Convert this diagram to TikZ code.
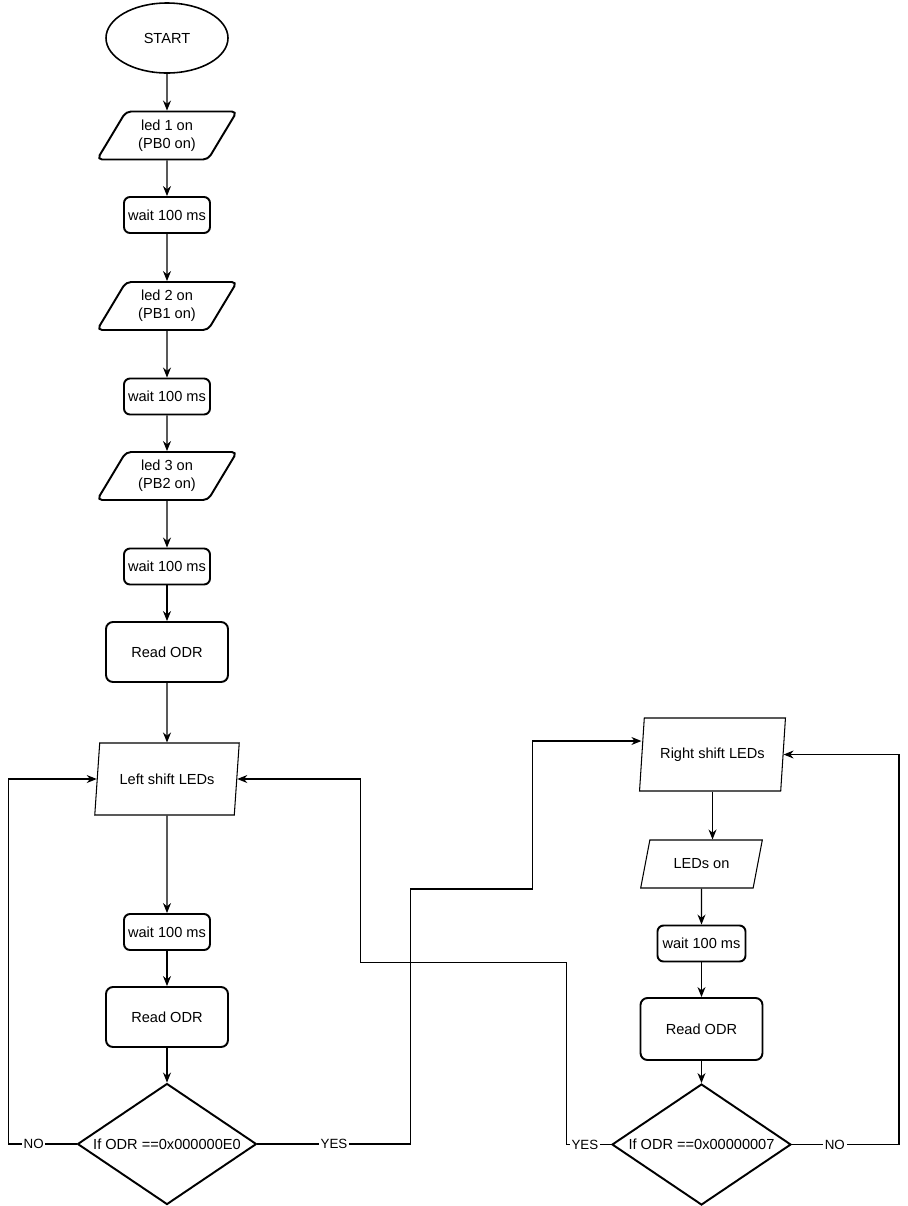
\documentclass[tikz,border=0pt]{standalone}
\usepackage{fontspec}
\setmainfont{Liberation Sans}
\usepackage{tikz}
\usetikzlibrary{shapes.geometric,positioning,arrows.meta}
\tikzstyle{startstop} = [ellipse, minimum width=2.44cm, minimum height=1.4cm, inner sep=0pt, draw=black, line width=0.9pt]
\tikzstyle{ledbox} = [trapezium, trapezium left angle=57, trapezium right angle=123, trapezium stretches=true, minimum width=2.8cm, minimum height=0.96cm, inner sep=0pt, align=center, rounded corners=1mm, draw=black, line width=1.1pt]
\tikzstyle{shiftbox} = [trapezium, trapezium stretches=true, inner sep=0pt, draw=black, line width=0.6pt]
\tikzstyle{waitbox} = [rectangle, rounded corners=1.2mm, minimum width=1.72cm, minimum height=0.72cm, inner sep=0pt, draw=black, line width=1.1pt]
\tikzstyle{readbox} = [rectangle, rounded corners=1.4mm, minimum width=2.44cm, minimum height=1.2cm, inner sep=0pt, draw=black, line width=1.1pt]
\tikzstyle{decision} = [diamond, aspect=1.48, minimum width=3.58cm, minimum height=2.42cm, inner sep=0pt, draw=black, line width=1.1pt]
\tikzstyle{arrow} = [line width=0.6pt, ->, >={Stealth[length=2mm,width=1.6mm]}]
\tikzstyle{answer} = [fill=white, inner sep=1pt, font=\fontsize{7.6}{9}\selectfont]

\begin{document}
\begin{tikzpicture}[font=\fontsize{8.3}{10}\selectfont]
            \useasboundingbox (0,0) rectangle (18.16,-24.12);
            % Left column
            \node(start) [startstop] at (3.34,-0.76) {START};
            \node(led1) [ledbox, below of=start, node distance=1.95cm] {led 1 on\\(PB0 on)};
            \node(wait1) [waitbox, below of=led1, node distance=1.59cm] {wait 100 ms};
            \node(led2) [ledbox, below of=wait1, node distance=1.82cm] {led 2 on\\(PB1 on)};
            \node(wait2) [waitbox, below of=led2, node distance=1.81cm] {wait 100 ms};
            \node(led3) [ledbox, below of=wait2, node distance=1.59cm] {led 3 on\\(PB2 on)};
            \node(wait3) [waitbox, below of=led3, node distance=1.81cm] {wait 100 ms};
            \node(read1) [readbox, below of=wait3, node distance=1.71cm] {Read ODR};
            \node(lshift) [shiftbox, trapezium left angle=72, trapezium right angle=108, minimum width=2.9cm, minimum height=1.44cm, below of=read1, node distance=2.54cm] {Left shift LEDs};
            \node(wait4) [waitbox, below of=lshift, node distance=3.06cm] {wait 100 ms};
            \node(read2) [readbox, below of=wait4, node distance=1.7cm] {Read ODR};
            \node(check1) [decision, below of=read2, node distance=2.54cm] {If ODR ==0x000000E0};

            % Right column
            \node(rshift) [shiftbox, trapezium left angle=75, trapezium right angle=105, minimum width=2.92cm, minimum height=1.46cm, xshift=10.91cm, yshift=0.49cm] at (lshift) {Right shift LEDs};
            \node(ledson) [shiftbox, trapezium left angle=64, trapezium right angle=116, minimum width=2.44cm, minimum height=0.96cm, below of=rshift, node distance=2.19cm, xshift=-0.22cm] {LEDs on};
            \node(wait5) [waitbox, minimum width=1.76cm, below of=ledson, node distance=1.59cm] {wait 100 ms};
            \node(read3) [readbox, minimum height=1.24cm, below of=wait5, node distance=1.71cm] {Read ODR};
            \node(check2) [decision, below of=read3, node distance=2.31cm] {If ODR ==0x00000007};

            % Draw Arrows
            \draw[arrow] (start) -- (led1);
            \draw[arrow] (led1) -- (wait1);
            \draw[arrow] (wait1) -- (led2);
            \draw[arrow] (led2) -- (wait2);
            \draw[arrow] (wait2) -- (led3);
            \draw[arrow] (led3) -- (wait3);
            \draw[arrow] (wait3) -- (read1);
            \draw[arrow] (read1) -- (lshift);
            \draw[arrow] (lshift) -- (wait4);
            \draw[arrow] (wait4) -- (read2);
            \draw[arrow] (read2) -- (check1);
            \draw[arrow] (rshift.south) -- (rshift.south |- ledson.north);
            \draw[arrow] (ledson) -- (wait5);
            \draw[arrow] (wait5) -- (read3);
            \draw[arrow] (read3) -- (check2);

            % Loops
            \draw[arrow] (check1.west) -- node[answer, pos=0.63] {NO} ++(-1.36,0) |- (lshift.west);
            \draw[arrow] (check1.east) -- node[answer] {YES} ++(3.06,0) -- ++(0,5.1) -- ++(2.44,0) |- ([yshift=0.27cm]rshift.west);
            \draw[arrow] (check2.west) -- node[answer, pos=0.58] {YES} ++(-0.9,0) -- ++(0,3.64) -- ++(-4.12,0) |- (lshift.east);
            \draw[arrow] (check2.east) -- node[answer, pos=0.4] {NO} ++(2.14,0) |- (rshift.east);
        \end{tikzpicture}
\end{document}
